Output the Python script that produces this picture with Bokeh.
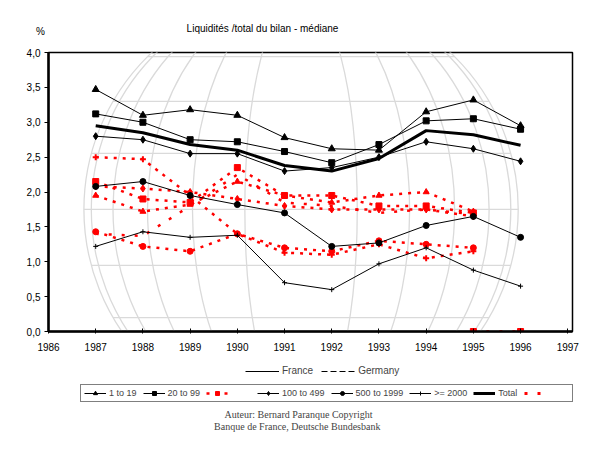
import math
from bokeh.plotting import figure
from bokeh.layouts import column
from bokeh.models import Legend, LegendItem, Label, FixedTicker
from bokeh.embed import file_html
from bokeh.resources import INLINE

# ---------------- data ----------------
years = [1987, 1988, 1989, 1990, 1991, 1992, 1993, 1994, 1995, 1996]
years_de = [1987, 1988, 1989, 1990, 1991, 1992, 1993, 1994, 1995]
years_de_late = [1995, 1996]

fr_1_19 = [3.47, 3.10, 3.18, 3.10, 2.78, 2.62, 2.60, 3.15, 3.32, 2.95]
fr_20_99 = [3.12, 3.00, 2.75, 2.72, 2.58, 2.42, 2.68, 3.02, 3.05, 2.90]
fr_100_499 = [2.80, 2.75, 2.55, 2.55, 2.30, 2.35, 2.50, 2.72, 2.62, 2.44]
fr_500_1999 = [2.08, 2.15, 1.95, 1.82, 1.70, 1.22, 1.27, 1.52, 1.65, 1.35]
fr_2000 = [1.22, 1.43, 1.35, 1.38, 0.70, 0.60, 0.97, 1.20, 0.88, 0.65]
fr_total = [2.95, 2.85, 2.68, 2.60, 2.38, 2.30, 2.48, 2.88, 2.82, 2.67]

de_1_19 = [1.95, 1.72, 1.82, 2.15, 1.95, 1.85, 1.95, 2.00, 1.72]
de_20_99 = [2.15, 1.90, 1.85, 2.35, 1.95, 1.95, 1.80, 1.80, 1.70]
de_100_499 = [2.08, 2.05, 2.00, 1.90, 1.80, 1.75, 1.75, 1.75, 1.65]
de_500_1999 = [1.43, 1.22, 1.15, 1.40, 1.20, 1.15, 1.30, 1.25, 1.20]
de_2000 = [2.50, 2.47, 1.95, 1.40, 1.13, 1.10, 1.25, 1.05, 1.15]
de_total = [1.40, 1.37, 1.80, 2.25, 1.85, 1.80, 1.70, 1.75, 1.68]
de_total_late = [0.0, 0.0]

x_ticks = [1986, 1987, 1988, 1989, 1990, 1991, 1992, 1993, 1994, 1995, 1996, 1997]
y_ticks = [0.0, 0.5, 1.0, 1.5, 2.0, 2.5, 3.0, 3.5, 4.0]
y_tick_labels = ["0,0", "0,5", "1,0", "1,5", "2,0", "2,5", "3,0", "3,5", "4,0"]

legend_labels = ["1 to 19", "20 to 99", " ", "100 to 499", "500 to 1999", ">= 2000", "Total", " "]
country_labels = ["France", "Germany"]
title_text = "Liquidités /total du bilan - médiane"
unit_text = "%"
footer_lines = ["Auteur: Bernard Paranque Copyright", "Banque de France,  Deutsche Bundesbank"]

FONT = "Liberation Sans"
RED = "#ff0000"
NAN = [float("nan")]


def blank_fig(h):
    f = figure(width=600, height=h, x_range=(0, 600), y_range=(0, h),
               output_backend="svg", toolbar_location=None,
               x_axis_location=None, y_axis_location=None,
               min_border=0)
    f.frame_align = False
    f.xgrid.visible = False
    f.ygrid.visible = False
    f.outline_line_color = None
    f.background_fill_color = "white"
    f.border_fill_color = "white"
    return f


# ================= top strip (title) =================
top = blank_fig(44)
top.add_layout(Label(x=262, y=16, x_units="screen", y_units="screen", text=title_text,
                     text_align="center", text_baseline="middle",
                     text_font=FONT, text_font_size="10px", text_color="black"))
top.add_layout(Label(x=40, y=13, x_units="screen", y_units="screen", text=unit_text,
                     text_align="center", text_baseline="middle",
                     text_font=FONT, text_font_size="10px", text_color="black"))

# ================= main chart =================
p = figure(width=600, height=315, x_range=(1986, 1997.1), y_range=(0, 4.0),
           output_backend="svg", toolbar_location=None,
           min_border_left=48, min_border_right=28, min_border_top=8, min_border_bottom=28)
p.frame_align = False
p.background_fill_color = "white"
p.border_fill_color = "white"
p.xgrid.visible = False
p.ygrid.visible = False
p.outline_line_color = "black"
p.outline_line_width = 1.5

# faint globe watermark (decoration)
gx, gy, grx, gry = 1991.35, 1.75, 4.6, 3.1
mer_w = [2 * grx * abs(math.sin(math.radians(a))) for a in range(15, 91, 15)]
p.ellipse(x=[gx] * len(mer_w), y=[gy] * len(mer_w), width=mer_w, height=[2 * gry] * len(mer_w),
          fill_alpha=0, line_color="#dadada", line_width=1.3)
lats = list(range(-75, 76, 15))
p.segment(x0=[gx - grx * math.cos(math.radians(a)) for a in lats],
          x1=[gx + grx * math.cos(math.radians(a)) for a in lats],
          y0=[gy + gry * math.sin(math.radians(a)) for a in lats],
          y1=[gy + gry * math.sin(math.radians(a)) for a in lats],
          line_color="#dadada", line_width=1.3)

# Germany (red dashed)
DASH = "3 6"
p.line(years_de, de_1_19, line_color=RED, line_width=2.5, line_dash=DASH)
p.scatter(years_de, de_1_19, marker="triangle", size=6, color=RED)
p.line(years_de, de_20_99, line_color=RED, line_width=2.5, line_dash=DASH)
p.scatter(years_de, de_20_99, marker="square", size=6, color=RED)
p.line(years_de, de_100_499, line_color=RED, line_width=2.5, line_dash=DASH)
p.scatter(years_de, de_100_499, marker="diamond", size=7, color=RED)
p.line(years_de, de_500_1999, line_color=RED, line_width=2.5, line_dash=DASH)
p.scatter(years_de, de_500_1999, marker="circle", size=6, color=RED)
p.line(years_de, de_2000, line_color=RED, line_width=2.5, line_dash=DASH)
p.scatter(years_de, de_2000, marker="cross", size=6, color=RED, line_width=2)
p.line(years_de, de_total, line_color=RED, line_width=2.5, line_dash="3 10")
p.line(years_de_late, de_total_late, line_color=RED, line_width=2.5, line_dash="3 10")
p.scatter(years_de_late, de_total_late, marker="square", size=6, color=RED)

# France (black solid)
p.line(years, fr_1_19, line_color="black", line_width=1)
p.scatter(years, fr_1_19, marker="triangle", size=7, color="black")
p.line(years, fr_20_99, line_color="black", line_width=1)
p.scatter(years, fr_20_99, marker="square", size=6, color="black")
p.line(years, fr_100_499, line_color="black", line_width=1)
p.scatter(years, fr_100_499, marker="diamond", size=7, color="black")
p.line(years, fr_500_1999, line_color="black", line_width=1)
p.scatter(years, fr_500_1999, marker="circle", size=6, color="black")
p.line(years, fr_2000, line_color="black", line_width=1)
p.scatter(years, fr_2000, marker="cross", size=5, color="black", line_width=1)
p.line(years, fr_total, line_color="black", line_width=3)

p.xaxis.ticker = FixedTicker(ticks=x_ticks)
p.yaxis.ticker = FixedTicker(ticks=y_ticks)
p.yaxis.major_label_overrides = dict(zip(y_ticks, y_tick_labels))
for ax in (p.xaxis[0], p.yaxis[0]):
    ax.axis_line_width = 2.5
    ax.axis_line_color = "black"
    ax.major_tick_line_color = "black"
    ax.minor_tick_line_color = None
    ax.major_label_text_font = FONT
    ax.major_label_text_font_size = "10px"
    ax.major_label_text_color = "black"
p.xaxis.major_tick_in = 3
p.xaxis.major_tick_out = 2
p.xaxis.major_label_standoff = 9
p.yaxis.major_tick_in = 0
p.yaxis.major_tick_out = 4
p.yaxis.major_label_standoff = 4

# ================= bottom strip (legends + credits) =================
bot = blank_fig(91)

# legend proxies (same styles as the series above)
b1 = [bot.line(NAN, NAN, line_color="black", line_width=1),
      bot.scatter(NAN, NAN, marker="triangle", size=7, color="black")]
b2 = [bot.line(NAN, NAN, line_color="black", line_width=1),
      bot.scatter(NAN, NAN, marker="square", size=6, color="black")]
b3 = [bot.line(NAN, NAN, line_color=RED, line_width=2.5, line_dash="3 6"),
      bot.scatter(NAN, NAN, marker="square", size=7, color=RED)]
b4 = [bot.line(NAN, NAN, line_color="black", line_width=1),
      bot.scatter(NAN, NAN, marker="diamond", size=6, color="black")]
b5 = [bot.line(NAN, NAN, line_color="black", line_width=1),
      bot.scatter(NAN, NAN, marker="circle", size=6, color="black")]
b6 = [bot.line(NAN, NAN, line_color="black", line_width=1),
      bot.scatter(NAN, NAN, marker="cross", size=4, color="black")]
b7 = [bot.line(NAN, NAN, line_color="black", line_width=3)]
b8 = [bot.line(NAN, NAN, line_color=RED, line_width=3, line_dash="3 10")]
bf = [bot.line(NAN, NAN, line_color="black", line_width=1)]
bg = [bot.line(NAN, NAN, line_color="black", line_width=1, line_dash="6 3")]

legend2 = Legend(items=[
    LegendItem(label=country_labels[0], renderers=bf),
    LegendItem(label=country_labels[1], renderers=bg),
], orientation="horizontal", location=(245, 74))
legend2.border_line_alpha = 0
legend2.background_fill_alpha = 0
legend2.padding = 0
legend2.spacing = 8
legend2.margin = 0
legend2.glyph_width = 34
legend2.glyph_height = 10
legend2.label_height = 10
legend2.label_standoff = 3
legend2.label_text_font = FONT
legend2.label_text_font_size = "10px"
bot.add_layout(legend2)

legend = Legend(items=[
    LegendItem(label=legend_labels[0], renderers=b1),
    LegendItem(label=legend_labels[1], renderers=b2),
    LegendItem(label=legend_labels[2], renderers=b3),
    LegendItem(label=legend_labels[3], renderers=b4),
    LegendItem(label=legend_labels[4], renderers=b5),
    LegendItem(label=legend_labels[5], renderers=b6),
    LegendItem(label=legend_labels[6], renderers=b7),
    LegendItem(label=legend_labels[7], renderers=b8),
], orientation="horizontal", location=(80, 48))
legend.border_line_color = "black"
legend.border_line_width = 1.5
legend.background_fill_color = "white"
legend.background_fill_alpha = 1
legend.padding = 3
legend.spacing = 6
legend.margin = 0
legend.glyph_width = 22
legend.glyph_height = 10
legend.label_height = 10
legend.label_standoff = 3
legend.label_text_font = FONT
legend.label_text_font_size = "9px"
bot.add_layout(legend)

for i, line in enumerate(footer_lines):
    bot.add_layout(Label(x=298, y=36 - 12 * i, x_units="screen", y_units="screen", text=line,
                         text_align="center", text_baseline="middle",
                         text_font="Liberation Serif", text_font_size="10px",
                         text_color="#444444"))

layout = column(top, p, bot, spacing=0)
open("out.html", "w").write(file_html(layout, INLINE))
